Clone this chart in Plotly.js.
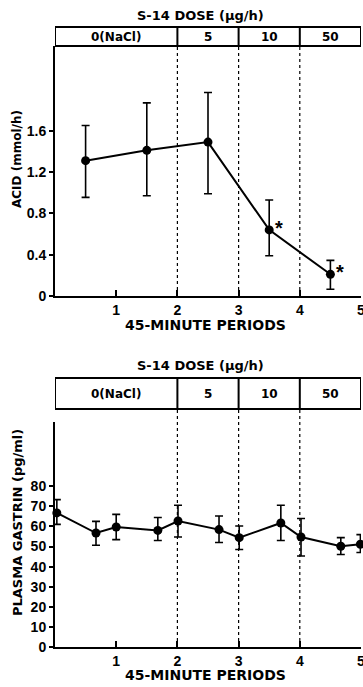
<!DOCTYPE html>
<html>
<head>
<meta charset="utf-8">
<script src="https://cdn.plot.ly/plotly-3.0.1.min.js"></script>
<style>html,body{margin:0;padding:0;background:#fff;}#chart{width:363px;height:687px;}</style>
</head>
<body>
<div id="chart"></div>
<script>
// ---- Data ----
var acidPeriods = [0.5, 1.5, 2.5, 3.5, 4.5];
var acidValues = [1.31, 1.41, 1.49, 0.64, 0.21];
var acidUpper = [1.65, 1.87, 1.97, 0.93, 0.345];
var acidLower = [0.955, 0.97, 0.99, 0.39, 0.065];
var acidSignificant = [false, false, false, true, true];

var gastrinPeriods = [0.03, 0.67, 1.0, 1.68, 2.01, 2.68, 3.01, 3.69, 4.02, 4.67, 4.99];
var gastrinValues = [66.7, 56.7, 59.7, 58.0, 62.7, 58.4, 54.4, 61.7, 54.7, 50.1, 51.1];
var gastrinUpper = [73.3, 62.5, 66.0, 64.4, 70.5, 65.2, 60.2, 70.5, 63.9, 54.4, 55.9];
var gastrinLower = [61.0, 50.6, 53.4, 53.0, 54.7, 52.0, 48.5, 53.0, 45.3, 46.0, 47.0];

var doseLabels = ["0(NaCl)", "5", "10", "50"];
var doseStarts = [0, 2, 3, 4];
var doseEnds = [2, 3, 4, 5];

var acidTickVals = [0, 0.4, 0.8, 1.2, 1.6];
var acidTickText = ["0", "0.4", "0.8", "1.2", "1.6"];
var gastrinTickVals = [0, 10, 20, 30, 40, 50, 60, 70, 80];
var gastrinTickText = ["0", "10", "20", "30", "40", "50", "60", "70", "80"];
var periodTickVals = [1, 2, 3, 4, 5];
var periodTickText = ["1", "2", "3", "4", "5"];

var doseTitle = "S-14 DOSE (\u03BCg/h)";
var xTitle = "45-MINUTE PERIODS";
var acidTitle = "ACID (mmol/h)";
var gastrinTitle = "PLASMA GASTRIN (pg/ml)";

// ---- Layout helpers (pixel -> paper) ----
var W = 363, H = 687;
function py(p) { return 1 - p / H; }
function pxp(p) { return p / W; }
var FONT = "Liberation Sans, Arial, sans-serif";
var WIDE = "DejaVu Sans, Verdana, sans-serif";

function diffs(a, b) { return a.map(function (v, i) { return v - b[i]; }); }

var traces = [
  {
    x: acidPeriods, y: acidValues, xaxis: "x", yaxis: "y",
    type: "scatter", mode: "lines+markers",
    line: { color: "#000", width: 2 },
    marker: { color: "#000", size: 9 },
    error_y: { type: "data", symmetric: false,
      array: diffs(acidUpper, acidValues), arrayminus: diffs(acidValues, acidLower),
      color: "#000", thickness: 1.6, width: 4 },
    cliponaxis: false, hoverinfo: "skip", showlegend: false
  },
  {
    x: gastrinPeriods, y: gastrinValues, xaxis: "x2", yaxis: "y2",
    type: "scatter", mode: "lines+markers",
    line: { color: "#000", width: 2 },
    marker: { color: "#000", size: 9 },
    error_y: { type: "data", symmetric: false,
      array: diffs(gastrinUpper, gastrinValues), arrayminus: diffs(gastrinValues, gastrinLower),
      color: "#000", thickness: 1.6, width: 4 },
    cliponaxis: false, hoverinfo: "skip", showlegend: false
  }
];

// panel pixel geometry
var panels = [
  { xa: "x", ya: "y", boxTop: 27, boxBot: 46, axTop: 46, axBot: 296, titleY: 16, xTitleY: 325, yTitleY: 159, yTitle: acidTitle, yTitleSize: 12 },
  { xa: "x2", ya: "y2", boxTop: 378, boxBot: 409, axTop: 422, axBot: 647, titleY: 365, xTitleY: 675, yTitleY: 523, yTitle: gastrinTitle, yTitleSize: 13 }
];

var shapes = [];
var annotations = [];
panels.forEach(function (p) {
  // header box
  shapes.push({ type: "rect", xref: p.xa, yref: "paper", x0: doseStarts[0], x1: doseEnds[doseEnds.length - 1],
    y0: py(p.boxBot), y1: py(p.boxTop), line: { color: "#000", width: 2 } });
  for (var i = 1; i < doseStarts.length; i++) {
    shapes.push({ type: "line", xref: p.xa, yref: "paper", x0: doseStarts[i], x1: doseStarts[i],
      y0: py(p.boxBot), y1: py(p.boxTop), line: { color: "#000", width: 2 } });
    shapes.push({ type: "line", xref: p.xa, yref: "paper", x0: doseStarts[i], x1: doseStarts[i],
      y0: py(p.axBot), y1: py(p.boxBot), line: { color: "#000", width: 1.2, dash: "dot" } });
  }
  doseLabels.forEach(function (lab, i) {
    annotations.push({ xref: p.xa, yref: "paper", x: (doseStarts[i] + doseEnds[i]) / 2, y: py((p.boxTop + p.boxBot) / 2),
      text: lab, showarrow: false, xanchor: "center", yanchor: "middle",
      font: { family: WIDE, size: 12, color: "#000", weight: 700 } });
  });
  annotations.push({ xref: "paper", yref: "paper", x: pxp(200), y: py(p.titleY), text: doseTitle,
    showarrow: false, xanchor: "center", yanchor: "middle",
    font: { family: WIDE, size: 13, color: "#000", weight: 700 } });
  annotations.push({ xref: "paper", yref: "paper", x: pxp(205), y: py(p.xTitleY), text: xTitle,
    showarrow: false, xanchor: "center", yanchor: "middle",
    font: { family: WIDE, size: 14, color: "#000", weight: 700 } });
  annotations.push({ xref: "paper", yref: "paper", x: pxp(17), y: py(p.yTitleY), text: p.yTitle,
    showarrow: false, xanchor: "center", yanchor: "middle", textangle: -90,
    font: { family: WIDE, size: p.yTitleSize, color: "#000", weight: 700 } });
});

// significance asterisks
acidSignificant.forEach(function (s, i) {
  if (s) {
    annotations.push({ xref: "x", yref: "y", x: acidPeriods[i], y: acidValues[i], text: "*",
      showarrow: false, xanchor: "left", yanchor: "middle", xshift: 4, yshift: 2,
      font: { family: FONT, size: 20, color: "#000", weight: 700 } });
  }
});

function xAxis(anchor) {
  return { domain: [pxp(55), pxp(361)], range: [0, 5], anchor: anchor,
    showline: true, linecolor: "#000", linewidth: 2, showgrid: false, zeroline: false,
    ticks: "inside", ticklen: 6, tickwidth: 2, tickcolor: "#000",
    tickmode: "array", tickvals: periodTickVals, ticktext: periodTickText,
    ticklabeloverflow: "allow",
    tickfont: { family: FONT, size: 14, color: "#000", weight: 700 }, fixedrange: true };
}
function yAxis(anchor, dom, rng, tv, tt) {
  return { domain: dom, range: rng, anchor: anchor,
    showline: true, linecolor: "#000", linewidth: 2, showgrid: false, zeroline: false,
    ticks: "outside", ticklen: 4, tickwidth: 2, tickcolor: "#000",
    tickmode: "array", tickvals: tv, ticktext: tt,
    ticklabeloverflow: "allow",
    tickfont: { family: FONT, size: 14, color: "#000", weight: 700 }, fixedrange: true };
}

var layout = {
  width: W, height: H,
  margin: { l: 0, r: 0, t: 0, b: 0, pad: 0 },
  paper_bgcolor: "#fff", plot_bgcolor: "#fff",
  showlegend: false,
  xaxis: xAxis("y"),
  yaxis: yAxis("x", [py(296), py(46)], [0, 250 / 103.3], acidTickVals, acidTickText),
  xaxis2: xAxis("y2"),
  yaxis2: yAxis("x2", [py(647), py(422)], [0, 225 / 2.01], gastrinTickVals, gastrinTickText),
  shapes: shapes,
  annotations: annotations
};

Plotly.newPlot("chart", traces, layout, { displayModeBar: false, staticPlot: true });
</script>
</body>
</html>
